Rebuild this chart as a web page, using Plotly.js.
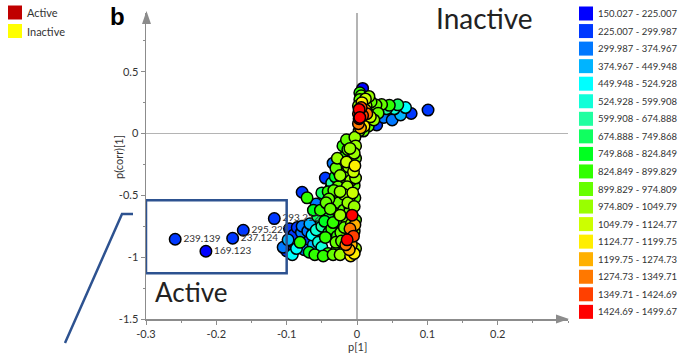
<!DOCTYPE html>
<html><head><meta charset="utf-8">
<script src="https://cdn.plot.ly/plotly-3.0.1.min.js"></script>
<style>html,body{margin:0;padding:0;background:#fff}#chart{width:682px;height:356px}</style>
</head><body><div id="chart"></div>
<script>
// ---- data ----
const binEdges = ["150.027","225.007","299.987","374.967","449.948","524.928","599.908","674.888","749.868","824.849","899.829","974.809","1049.79","1124.77","1199.75","1274.73","1349.71","1424.69","1499.67"];
const binColors = ["#0000ff","#0038ff","#0078ff","#00b4ff","#00ffff","#10ffd8","#20ffa0","#10ff60","#00ff20","#30ff00","#66ff00","#99ff00","#ccff00","#ffee00","#ffb000","#ff7800","#ff4000","#ff0000"];
const groupNames = ["Active","Inactive"];
const groupColors = ["#c00000","#ffff00"];

const labeledText = ["239.139","169.123","237.124","295.227","293.212"];
const labeledP1 = [-0.2585,-0.2148,-0.1768,-0.1617,-0.1176];
const labeledPcorr = [-0.855,-0.952,-0.847,-0.782,-0.688];

const p1 = [
 0.008,0.101,0.077,0.069,0.058,0.046,0.035,0.050,0.062,0.038,0.028,0.030,0.022,0.013,0.020,0.012,0.004,0.006,0.017,0.007,0.003,0.003,0.014,0.008,0.002,0.005,0.010,0.016,0.024,0.002,0.009,0.019,0.003,0.002,0.012,
 0.006,0.004,0.010,0.004,0.027,0.042,0.053,
 -0.003,-0.009,-0.002,-0.013,-0.004,-0.018,-0.008,-0.003,-0.022,-0.012,-0.034,-0.027,-0.016,-0.005,-0.031,-0.045,-0.021,-0.009,-0.036,-0.027,-0.014,-0.004,-0.037,-0.041,-0.050,-0.078,-0.071,-0.031,-0.019,-0.006,-0.015,-0.020,-0.028,-0.030,
 -0.010,-0.002,-0.015,-0.006,-0.024,-0.012,-0.002,-0.018,-0.033,-0.011,-0.024,-0.003,
 -0.048,-0.045,-0.058,-0.036,-0.026,-0.013,-0.004,-0.031,-0.019,-0.007,-0.041,-0.056,-0.026,-0.014,-0.010,-0.003,-0.067,-0.085,-0.078,-0.096,-0.050,-0.036,-0.023,-0.064,-0.081,-0.105,-0.092,-0.072,-0.055,-0.045,-0.014,-0.005,-0.030,-0.060,-0.041,-0.028,-0.018,-0.009,-0.016,-0.075,-0.098,-0.090,-0.050,-0.034,-0.002,-0.002,-0.062,-0.040,-0.011,-0.008,
 -0.044,-0.052,-0.038,-0.024,-0.010,-0.034,-0.046,-0.018,-0.004,-0.028,-0.040,-0.058,-0.070,-0.079,-0.062,-0.068,-0.048,-0.024,-0.011,-0.004,-0.022,-0.100,-0.086,-0.008
];
const pcorr = [
 0.365,0.190,0.162,0.210,0.232,0.228,0.235,0.110,0.150,0.130,0.070,0.165,0.200,0.225,0.255,0.280,0.275,0.305,0.300,0.250,0.195,0.120,0.160,0.145,0.080,0.045,0.100,0.060,0.110,0.225,0.020,0.135,0.020,0.160,0.190,
 0.21,0.13,0.06,0.33,0.23,0.20,0.20,
 -0.03,-0.07,-0.10,-0.13,-0.16,-0.19,-0.21,-0.26,-0.24,-0.27,-0.24,-0.30,-0.32,-0.31,-0.35,-0.36,-0.37,-0.38,-0.40,-0.43,-0.43,-0.42,-0.44,-0.47,-0.48,-0.475,-0.52,-0.50,-0.49,-0.48,-0.05,-0.10,-0.20,-0.28,
 -0.12,-0.20,-0.23,-0.29,-0.34,-0.35,-0.36,-0.41,-0.46,-0.47,-0.47,-0.52,
 -0.60,-0.63,-0.57,-0.58,-0.56,-0.56,-0.59,-0.64,-0.62,-0.66,-0.68,-0.67,-0.70,-0.72,-0.77,-0.74,-0.73,-0.76,-0.75,-0.77,-0.75,-0.77,-0.80,-0.82,-0.88,-0.92,-0.98,-0.86,-0.88,-0.84,-0.86,-0.83,-0.88,-0.98,-0.97,-0.93,-0.95,-0.99,-0.90,-0.94,-0.86,-0.82,-0.92,-0.98,-0.93,-0.70,-0.62,-0.53,-0.52,-0.90,
 -0.56,-0.62,-0.61,-0.66,-0.62,-0.72,-0.71,-0.76,-0.79,-0.83,-0.80,-0.78,-0.79,-0.80,-0.90,-0.96,-0.99,-0.98,-0.94,-0.97,-0.87,-0.95,-0.93,-0.73
];
const mass = [
 200,230,260,480,700,860,920,330,420,300,240,950,900,1000,950,1090,950,900,1010,1160,1460,1460,1310,1390,1310,1240,1010,940,1010,1010,940,1090,1010,1390,1240,
 1390,1460,1160,860,940,640,560,
 1010,940,1010,940,1010,860,940,1160,940,1010,300,860,940,1090,790,260,940,1010,640,940,1010,940,230,860,710,230,860,940,1010,1090,940,860,1010,940,
 1010,940,1090,940,1010,940,1010,860,940,940,1010,940,
 260,230,330,860,940,1010,1010,790,940,1460,790,710,860,940,1310,1240,400,260,330,230,640,860,940,480,860,330,480,260,560,860,1460,1390,940,860,860,860,940,1160,1310,330,400,230,560,940,1010,940,790,940,940,1240,
 940,860,940,1010,940,860,790,940,1010,860,710,560,330,300,400,790,860,1010,1240,1160,940,260,480,1010
];

// ---- helpers ----
const W=682,H=356,L=146,R=114,T=13,B=37,PW=W-L-R,PH=H-T-B;
const fx = px => (px-L)/PW;
const fy = py => (H-B-py)/PH;
const edgeNum = binEdges.map(Number);
function binOf(m){for(let i=0;i<edgeNum.length-1;i++){if(m<edgeNum[i+1])return i;}return edgeNum.length-2;}

const order = mass.map((m,i)=>i).sort((a,b)=>mass[a]-mass[b]);
const font = "Lato, 'Open Sans', sans-serif";

const traces = [
 {type:'scatter',mode:'markers',x:order.map(i=>p1[i]),y:order.map(i=>pcorr[i]),
  marker:{size:11.5,color:order.map(i=>binColors[binOf(mass[i])]),line:{color:'#000',width:1.5}},
  cliponaxis:false,hoverinfo:'skip'},
 {type:'scatter',mode:'markers+text',x:labeledP1,y:labeledPcorr,text:labeledText,textposition:'middle right',
  textfont:{family:font,size:10,color:'#333'},
  marker:{size:11.5,color:labeledText.map(t=>binColors[binOf(Number(t))]),line:{color:'#000',width:1.5}},
  cliponaxis:false,hoverinfo:'skip'}
];

const shapes = [
 {type:'rect',xref:'x',yref:'y',x0:-0.3,x1:-0.1,y0:-1.13,y1:-0.54,line:{color:'#2d5290',width:2.5},layer:'above'},
 {type:'path',xref:'paper',yref:'paper',path:`M ${fx(65)} ${fy(343)} L ${fx(122)} ${fy(214)} L ${fx(133)} ${fy(214)}`,line:{color:'#2d5290',width:2.5}},
 {type:'path',xref:'paper',yref:'paper',path:`M ${fx(146.5)} ${fy(11)} L ${fx(142)} ${fy(24)} L ${fx(151)} ${fy(24)} Z`,fillcolor:'#8c8c8c',line:{width:0}},
 {type:'path',xref:'paper',yref:'paper',path:`M ${fx(569)} ${fy(319)} L ${fx(556)} ${fy(314.5)} L ${fx(556)} ${fy(323.5)} Z`,fillcolor:'#8c8c8c',line:{width:0}}
];
const annotations = [
 {xref:'paper',yref:'paper',x:fx(357),y:fy(346),text:'p[1]',showarrow:false,xanchor:'center',yanchor:'middle',font:{family:font,size:11,color:'#333'}},
 {xref:'paper',yref:'paper',x:fx(118),y:fy(157),text:'p(corr)[1]',textangle:-90,showarrow:false,xanchor:'center',yanchor:'middle',font:{family:font,size:11,color:'#333'}},
 {xref:'paper',yref:'paper',x:fx(117.5),y:fy(17),text:'<b>b</b>',showarrow:false,xanchor:'center',yanchor:'middle',font:{family:"'Liberation Sans', Arial, sans-serif",size:24,color:'#000'}},
 {xref:'paper',yref:'paper',x:fx(484),y:fy(18),text:'Inactive',showarrow:false,xanchor:'center',yanchor:'middle',font:{family:font,size:28,color:'#222'}},
 {xref:'paper',yref:'paper',x:fx(191),y:fy(292),text:'Active',showarrow:false,xanchor:'center',yanchor:'middle',font:{family:font,size:26,color:'#222'}}
];
// left legend
groupNames.forEach((g,i)=>{
 const c = 12.5 + i*18.5;
 shapes.push({type:'rect',xref:'paper',yref:'paper',x0:fx(8),x1:fx(22),y0:fy(c-7),y1:fy(c+7),fillcolor:groupColors[i],line:{width:0}});
 annotations.push({xref:'paper',yref:'paper',x:fx(25),y:fy(c),text:g,showarrow:false,xanchor:'left',yanchor:'middle',font:{family:font,size:11,color:'#333'}});
});
// right legend
for(let i=0;i<binEdges.length-1;i++){
 const c = 13.5 + i*17.55;
 shapes.push({type:'rect',xref:'paper',yref:'paper',x0:fx(579),x1:fx(593),y0:fy(c-7),y1:fy(c+7),fillcolor:binColors[i],line:{width:0}});
 annotations.push({xref:'paper',yref:'paper',x:fx(595.5),y:fy(c),text:binEdges[i]+' - '+binEdges[i+1],showarrow:false,xanchor:'left',yanchor:'middle',font:{family:font,size:9.5,color:'#333'}});
}

const xt=[-0.3,-0.2,-0.1,0,0.1,0.2], yt=[-1.5,-1,-0.5,0,0.5];
const layout = {
 width:W,height:H,margin:{l:L,r:R,t:T,b:B,pad:0},paper_bgcolor:'#fff',plot_bgcolor:'#fff',showlegend:false,
 xaxis:{range:[-0.3,0.3],tickvals:xt,ticktext:xt.map(String),showgrid:false,zeroline:true,zerolinecolor:'#b4b4b4',zerolinewidth:1.5,
  showline:true,linecolor:'#8c8c8c',linewidth:1.5,ticks:'outside',ticklen:4,tickcolor:'#8c8c8c',
  minor:{dtick:0.05,ticks:'outside',ticklen:2,tickcolor:'#8c8c8c'},tickfont:{family:font,size:11,color:'#333'},fixedrange:true},
 yaxis:{range:[-1.5,0.975],tickvals:yt,ticktext:yt.map(String),showgrid:false,zeroline:true,zerolinecolor:'#b4b4b4',zerolinewidth:1.5,
  showline:true,linecolor:'#8c8c8c',linewidth:1.5,ticks:'outside',ticklen:4,tickcolor:'#8c8c8c',
  minor:{dtick:0.25,ticks:'outside',ticklen:2,tickcolor:'#8c8c8c'},tickfont:{family:font,size:11,color:'#333'},fixedrange:true},
 shapes:shapes,annotations:annotations
};
Plotly.newPlot('chart',traces,layout,{staticPlot:true,displayModeBar:false});
</script></body></html>
